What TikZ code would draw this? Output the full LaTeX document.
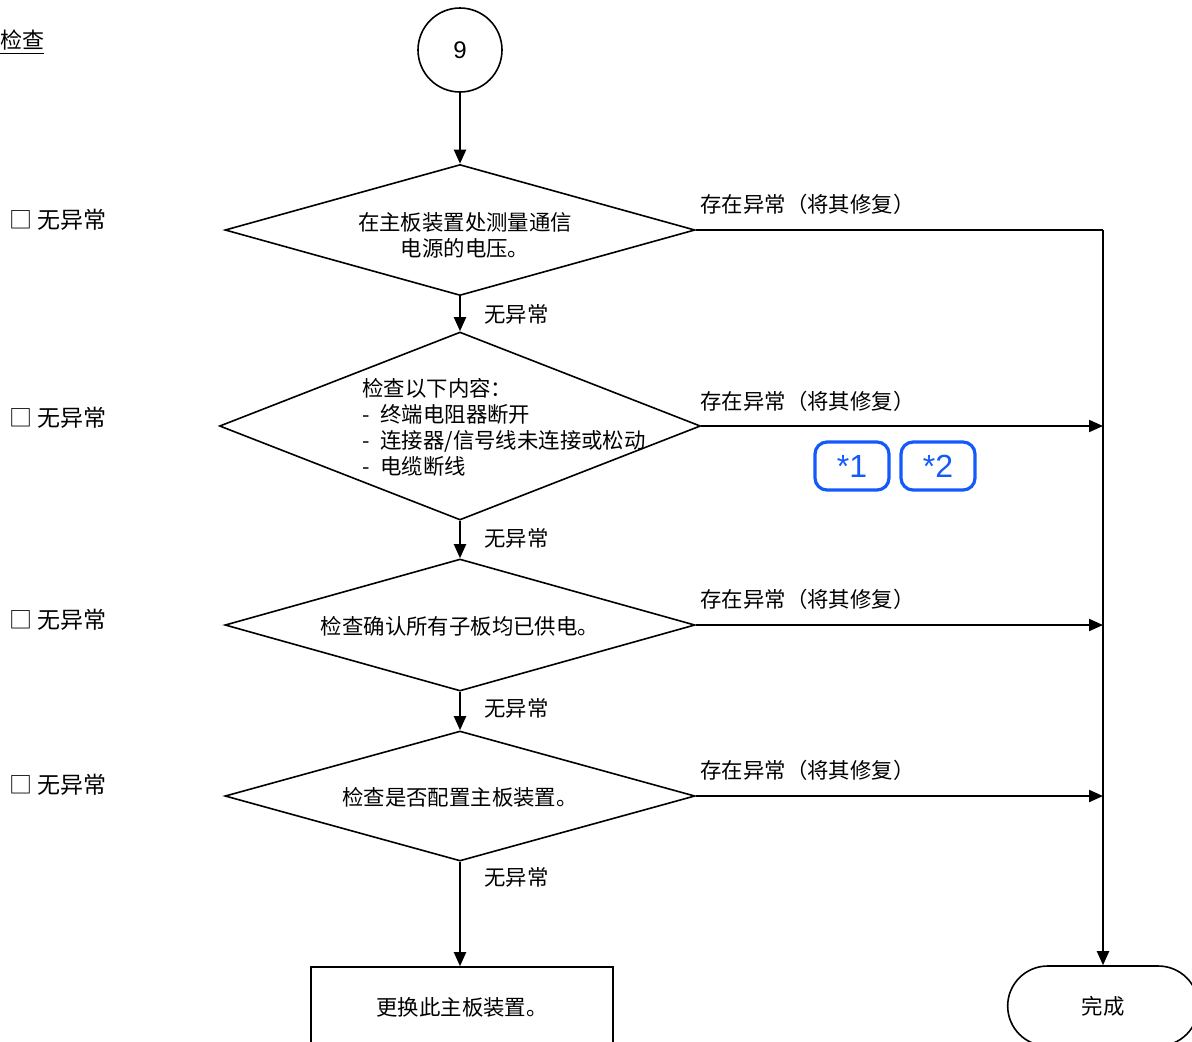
\documentclass[tikz,border=0pt]{standalone}
\usepackage{fontspec}
\setmainfont{Noto Sans CJK SC}
\newfontfamily\latinsf{Liberation Sans}
\usetikzlibrary{shapes.geometric,shapes.misc,arrows.meta}
\definecolor{refblue}{RGB}{20,90,250}

\begin{document}
\begin{tikzpicture}[x=0.5pt,y=-0.5pt,
  every node/.style={font=\fontsize{10.7}{13}\selectfont},
  decide/.style={draw, diamond, line width=0.8pt, inner sep=0pt,
    minimum width=235pt, minimum height=65.5pt},
  act/.style={draw, rectangle, line width=0.8pt, minimum width=151pt, minimum height=40pt},
  term/.style={draw, rounded rectangle, line width=0.8pt, minimum width=102pt, minimum height=40pt},
  note/.style={draw=refblue, text=refblue, line width=1.6pt, rounded corners=6pt,
    minimum width=37pt, minimum height=24pt, inner sep=0pt, font=\latinsf\fontsize{16}{16}\selectfont},
  flow/.style={line width=1pt, -{Triangle[length=7pt,width=6pt]}},
  ok/.style={anchor=west, inner sep=0pt},
  tick/.style={anchor=west, inner sep=0pt, font=\fontsize{11.5}{13}\selectfont}]
\useasboundingbox (0,0) rectangle (1192,1041);
\node[ok, font=\fontsize{11}{13}\selectfont] (title) at (0,42) {\underline{检查}};
\node[circle, draw, line width=0.8pt, minimum size=42pt,
  font=\latinsf\fontsize{12}{13}\selectfont] (n9) at (460,50) {9};

\node[decide] (d1) at (460,230) {};
\node[decide, minimum width=240.5pt, minimum height=94pt] (d2) at (460,426) {};
\node[decide, minimum height=66pt] (d3) at (460,625) {};
\node[decide, minimum height=65pt] (d4) at (460,796) {};
\node[align=center, inner sep=0pt] (q1) at (465,235) {在主板装置处测量通信\\电源的电压。};
\node[align=left, anchor=west, inner sep=0pt] (q2) at (362,427)
  {检查以下内容：\\-\hspace{0.5em}终端电阻器断开\\-\hspace{0.5em}连接器/信号线未连接或松动\\-\hspace{0.5em}电缆断线};
\node[inner sep=0pt] (q3) at (460,626) {检查确认所有子板均已供电。};
\node[inner sep=0pt] (q4) at (460,797) {检查是否配置主板装置。};

\node[act] (swap) at (462,1007) {更换此主板装置。};
\node[term] (done) at (1103,1006) {完成};

\draw[flow] (n9) -- (d1);
\draw[flow] (d1.south) -- (d2.north);
\draw[flow] (d2.south) -- (d3.north);
\draw[flow] (d3.south) -- (d4.north);
\draw[flow] (d4.south) -- (d4.south |- swap.north);
\node[ok] (y1) at (484,314) {无异常};
\node[ok] (y2) at (484,538) {无异常};
\node[ok] (y3) at (484,708) {无异常};
\node[ok] (y4) at (484,877) {无异常};

\coordinate (r1) at (1103,230);
\draw[line width=1pt] (d1.east) -- (r1);
\draw[flow] (r1) -- (done.north);
\draw[flow] (d2.east) -- (d2.east -| r1);
\draw[flow] (d3.east) -- (d3.east -| r1);
\draw[flow] (d4.east) -- (d4.east -| r1);
\node[ok] (f1) at (700,204) {存在异常（将其修复）};
\node[ok] (f2) at (700,401) {存在异常（将其修复）};
\node[ok] (f3) at (700,599) {存在异常（将其修复）};
\node[ok] (f4) at (700,770) {存在异常（将其修复）};

\node[note] (s1) at (852,466) {*1};
\node[note] (s2) at (938,466) {*2};

\node[tick] (k1) at (9,220) {□ 无异常};
\node[tick] (k2) at (9,418) {□ 无异常};
\node[tick] (k3) at (9,620) {□ 无异常};
\node[tick] (k4) at (9,785) {□ 无异常};
\end{tikzpicture}
\end{document}
